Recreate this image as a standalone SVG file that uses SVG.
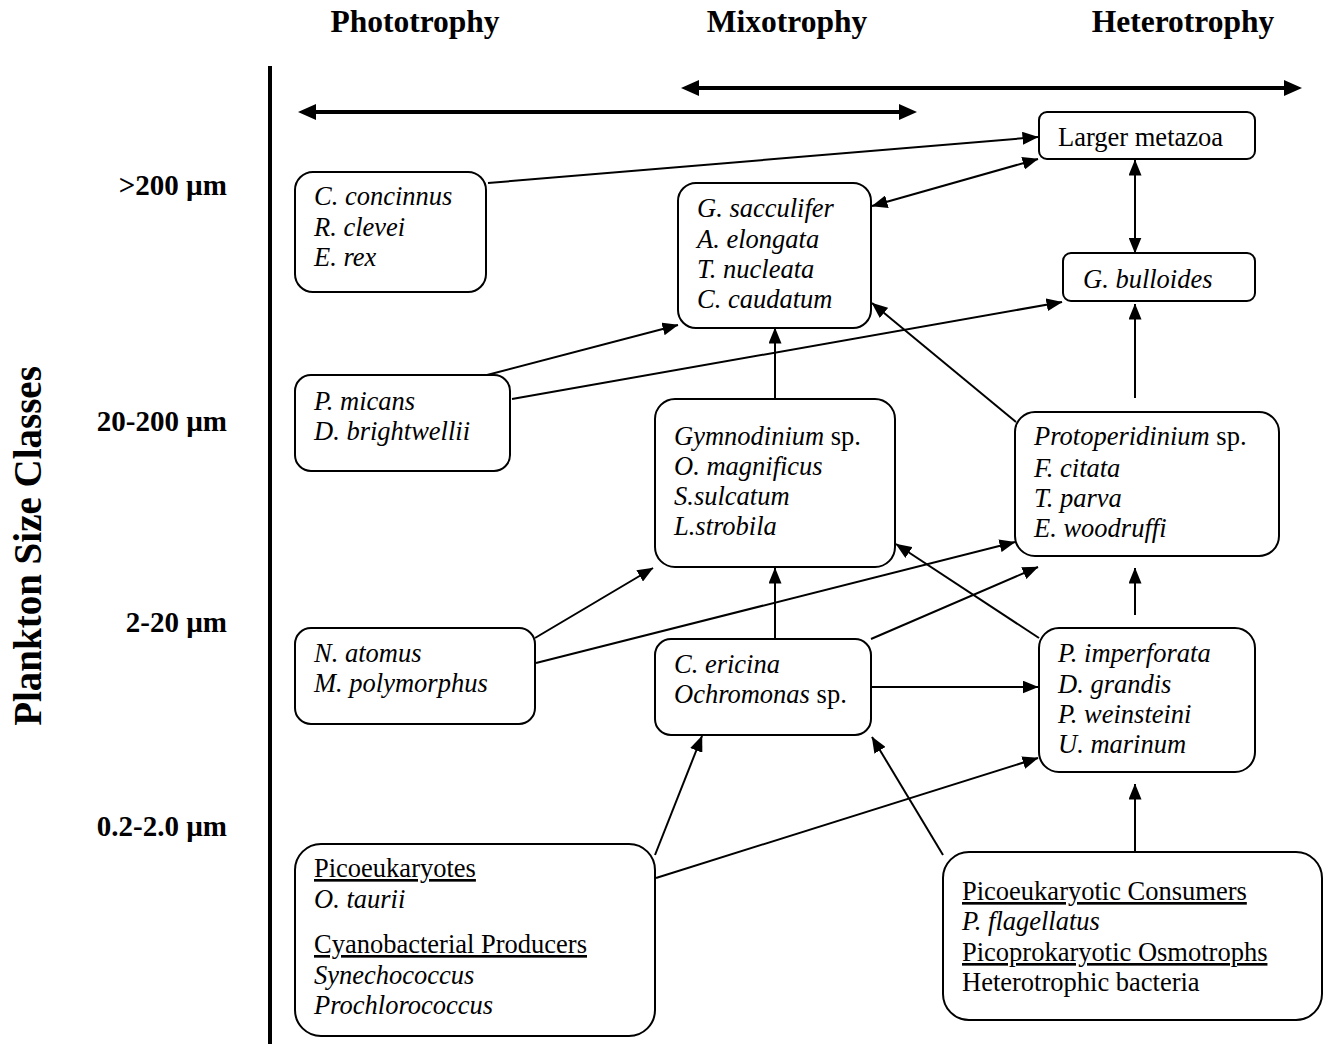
<svg xmlns="http://www.w3.org/2000/svg" width="1327" height="1044" viewBox="0 0 1327 1044">
<style>
text{font-family:"Liberation Serif","Times New Roman",serif;fill:#000}
.hd{font-size:31.5px;font-weight:bold}
.sz{font-size:29px;font-weight:bold}
.ax{font-size:39px;font-weight:bold}
.t{font-size:26.5px}
.i{font-style:italic}
.u{text-decoration:underline}
.box{fill:#fff;stroke:#000;stroke-width:2}
.c line{stroke:#000;stroke-width:2;fill:none;marker-end:url(#ah)}
.c line.d{marker-start:url(#ah)}
.big line{stroke:#000;stroke-width:4;marker-start:url(#bh);marker-end:url(#bh)}
</style>
<defs>
<marker id="ah" viewBox="0 0 16 13" refX="15.5" refY="6.5" markerWidth="16" markerHeight="13" markerUnits="userSpaceOnUse" orient="auto-start-reverse"><path d="M0,0 L16,6.5 L0,13 z" fill="#000"/></marker>
<marker id="bh" viewBox="0 0 18 16" refX="1" refY="8" markerWidth="18" markerHeight="16" markerUnits="userSpaceOnUse" orient="auto-start-reverse"><path d="M0,0 L18,8 L0,16 z" fill="#000"/></marker>
</defs>
<rect width="1327" height="1044" fill="#fff"/>

<g id="headers">
<text class="hd" x="415" y="32" text-anchor="middle">Phototrophy</text>
<text class="hd" x="787" y="32" text-anchor="middle">Mixotrophy</text>
<text class="hd" x="1183" y="32" text-anchor="middle">Heterotrophy</text>
</g>

<g id="axis">
<line x1="270" y1="66" x2="270" y2="1044" stroke="#000" stroke-width="4"/>
<text class="ax" transform="translate(41,546) rotate(-90)" text-anchor="middle">Plankton Size Classes</text>
<text class="sz" x="227" y="195" text-anchor="end">&gt;200 µm</text>
<text class="sz" x="227" y="431" text-anchor="end">20-200 µm</text>
<text class="sz" x="227" y="632" text-anchor="end">2-20 µm</text>
<text class="sz" x="227" y="836" text-anchor="end">0.2-2.0 µm</text>
</g>

<g id="ranges" class="big">
<line x1="698" y1="88" x2="1285" y2="88"/>
<line x1="315" y1="112" x2="900" y2="112"/>
</g>

<g id="connectors" class="c">
<line x1="488" y1="183" x2="1038" y2="137"/>
<line class="d" x1="872" y1="206" x2="1038" y2="159"/>
<line class="d" x1="1135" y1="160" x2="1135" y2="253"/>
<line x1="487" y1="375" x2="678" y2="325"/>
<line x1="512" y1="399" x2="1062" y2="302"/>
<line x1="775" y1="399" x2="775" y2="328"/>
<line x1="1016" y1="422" x2="872" y2="303"/>
<line x1="1135" y1="398" x2="1135" y2="304"/>
<line x1="535" y1="638" x2="653" y2="568"/>
<line x1="536" y1="663" x2="1015" y2="542"/>
<line x1="775" y1="639" x2="775" y2="568"/>
<line x1="871" y1="639" x2="1038" y2="567"/>
<line x1="1039" y1="638" x2="896" y2="544"/>
<line x1="1135" y1="615" x2="1135" y2="568"/>
<line x1="871" y1="687" x2="1038" y2="687"/>
<line x1="655" y1="855" x2="702" y2="736"/>
<line x1="656" y1="878" x2="1038" y2="758"/>
<line x1="943" y1="855" x2="872" y2="737"/>
<line x1="1135" y1="855" x2="1135" y2="784"/>
</g>

<g id="n-metazoa">
<rect class="box" x="1039" y="112" width="216" height="47" rx="8"/>
<text class="t" x="1058" y="146">Larger metazoa</text>
</g>
<g id="n-bulloides">
<rect class="box" x="1063" y="253" width="192" height="48" rx="8"/>
<text class="t i" x="1083" y="288">G. bulloides</text>
</g>
<g id="n-concinnus">
<rect class="box" x="295" y="172" width="191" height="120" rx="18"/>
<text class="t i" x="314" y="205">C. concinnus</text>
<text class="t i" x="314" y="236">R. clevei</text>
<text class="t i" x="314" y="266">E. rex</text>
</g>
<g id="n-sacculifer">
<rect class="box" x="678" y="183" width="193" height="145" rx="18"/>
<text class="t i" x="697" y="217">G. sacculifer</text>
<text class="t i" x="697" y="248">A. elongata</text>
<text class="t i" x="697" y="278">T. nucleata</text>
<text class="t i" x="697" y="308">C. caudatum</text>
</g>
<g id="n-micans">
<rect class="box" x="295" y="375" width="215" height="96" rx="16"/>
<text class="t i" x="314" y="410">P. micans</text>
<text class="t i" x="314" y="440">D. brightwellii</text>
</g>
<g id="n-gymnodinium">
<rect class="box" x="655" y="399" width="240" height="168" rx="20"/>
<text class="t" x="674" y="445"><tspan class="i">Gymnodinium</tspan> sp.</text>
<text class="t i" x="674" y="475">O. magnificus</text>
<text class="t i" x="674" y="505">S.sulcatum</text>
<text class="t i" x="674" y="535">L.strobila</text>
</g>
<g id="n-protoperidinium">
<rect class="box" x="1015" y="412" width="264" height="144" rx="20"/>
<text class="t" x="1034" y="445"><tspan class="i">Protoperidinium</tspan> sp.</text>
<text class="t i" x="1034" y="477">F. citata</text>
<text class="t i" x="1034" y="507">T. parva</text>
<text class="t i" x="1034" y="537">E. woodruffi</text>
</g>
<g id="n-atomus">
<rect class="box" x="295" y="628" width="240" height="96" rx="16"/>
<text class="t i" x="314" y="662">N. atomus</text>
<text class="t i" x="314" y="692">M. polymorphus</text>
</g>
<g id="n-ericina">
<rect class="box" x="655" y="639" width="216" height="96" rx="16"/>
<text class="t i" x="674" y="673">C. ericina</text>
<text class="t" x="674" y="703"><tspan class="i">Ochromonas</tspan> sp.</text>
</g>
<g id="n-imperforata">
<rect class="box" x="1039" y="628" width="216" height="144" rx="20"/>
<text class="t i" x="1058" y="662">P. imperforata</text>
<text class="t i" x="1058" y="693">D. grandis</text>
<text class="t i" x="1058" y="723">P. weinsteini</text>
<text class="t i" x="1058" y="753">U. marinum</text>
</g>
<g id="n-picoeukaryotes">
<rect class="box" x="295" y="844" width="360" height="192" rx="26"/>
<text class="t u" x="314" y="877">Picoeukaryotes</text>
<text class="t i" x="314" y="908">O. taurii</text>
<text class="t u" x="314" y="953">Cyanobacterial Producers</text>
<text class="t i" x="314" y="984">Synechococcus</text>
<text class="t i" x="314" y="1014">Prochlorococcus</text>
</g>
<g id="n-consumers">
<rect class="box" x="943" y="852" width="379" height="168" rx="26"/>
<text class="t u" x="962" y="900">Picoeukaryotic Consumers</text>
<text class="t i" x="962" y="930">P. flagellatus</text>
<text class="t u" x="962" y="961">Picoprokaryotic Osmotrophs</text>
<text class="t" x="962" y="991">Heterotrophic bacteria</text>
</g>
</svg>
